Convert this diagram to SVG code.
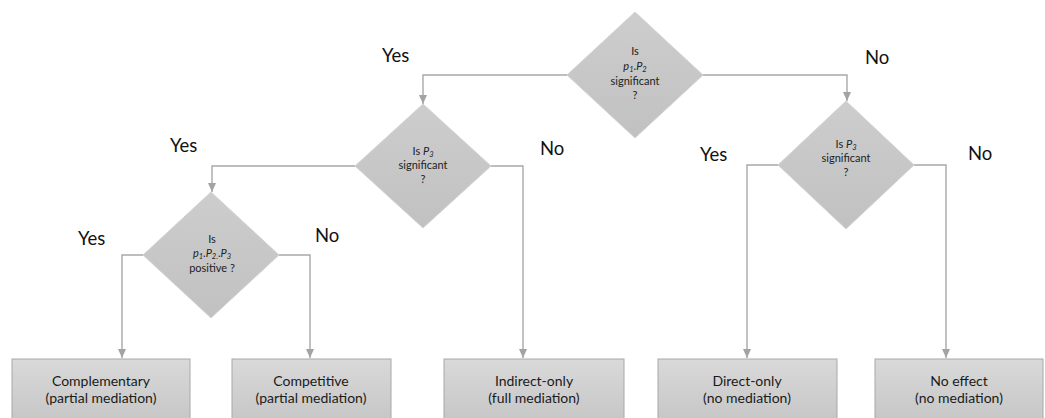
<svg xmlns="http://www.w3.org/2000/svg" width="1045" height="418" viewBox="0 0 1045 418">
  <defs>
    <linearGradient id="boxGrad" x1="0" y1="0" x2="0" y2="1">
      <stop offset="0" stop-color="#d9d9d9"/>
      <stop offset="1" stop-color="#c4c4c4"/>
    </linearGradient>
    <linearGradient id="diaGrad" x1="0" y1="0" x2="0" y2="1">
      <stop offset="0" stop-color="#cdcdcd"/>
      <stop offset="1" stop-color="#c1c1c1"/>
    </linearGradient>
    <marker id="arr" markerUnits="userSpaceOnUse" markerWidth="10" markerHeight="10" viewBox="0 0 10 10" refX="9" refY="5" orient="auto">
      <path d="M0,1 L9,5 L0,9 Z" fill="#a3a3a3"/>
    </marker>
    <style>
      .dia { fill: url(#diaGrad); stroke: #d4d4d4; stroke-width: 1; }
      .box { fill: url(#boxGrad); stroke: #a8a8a8; stroke-width: 1; }
      .con { fill: none; stroke: #a8a8a8; stroke-width: 1.4; marker-end: url(#arr); }
      .dt { font-family: Lato, "Liberation Sans", sans-serif; font-size: 11px; fill: #222; text-anchor: middle; }
      .bt { font-family: Lato, "Liberation Sans", sans-serif; font-size: 14px; fill: #1a1a1a; text-anchor: middle; }
      .lbl { font-family: Lato, "Liberation Sans", sans-serif; font-size: 18.5px; fill: #111; }
      .i { font-style: italic; }
      .sub { font-size: 7.5px; font-style: italic; }
    </style>
  </defs>

  <g id="connectors">
    <polyline class="con" points="567,75 423,75 423,104"/>
    <polyline class="con" points="703,75 847,75 847,101"/>
    <polyline class="con" points="355,166 212,166 212,192"/>
    <polyline class="con" points="491,166 523,166 523,358"/>
    <polyline class="con" points="143,255 122,255 122,358"/>
    <polyline class="con" points="279,255 310,255 310,358"/>
    <polyline class="con" points="778,165 747,165 747,358"/>
    <polyline class="con" points="914,165 946,165 946,358"/>
  </g>

  <g id="labels">
    <text class="lbl" x="382" y="62">Yes</text>
    <text class="lbl" x="865" y="64">No</text>
    <text class="lbl" x="170" y="152">Yes</text>
    <text class="lbl" x="540" y="155">No</text>
    <text class="lbl" x="78" y="245">Yes</text>
    <text class="lbl" x="315" y="242">No</text>
    <text class="lbl" x="700" y="161">Yes</text>
    <text class="lbl" x="968" y="160">No</text>
  </g>

  <g id="d1">
    <polygon class="dia" points="635,12 703,75 635,138 567,75"/>
    <text class="dt" x="635" y="55">Is</text>
    <text class="dt" x="635" y="70"><tspan class="i">p</tspan><tspan class="sub" dy="2">1</tspan><tspan dy="-2">.</tspan><tspan class="i">P</tspan><tspan class="sub" dy="2">2</tspan></text>
    <text class="dt" x="635" y="85">significant</text>
    <text class="dt" x="635" y="99">?</text>
  </g>

  <g id="d2">
    <polygon class="dia" points="423,104 491,166 423,228 355,166"/>
    <text class="dt" x="423" y="155">Is <tspan class="i">P</tspan><tspan class="sub" dy="2">3</tspan></text>
    <text class="dt" x="423" y="169">significant</text>
    <text class="dt" x="423" y="183">?</text>
  </g>

  <g id="d3">
    <polygon class="dia" points="211,192 279,255 211,318 143,255"/>
    <text class="dt" x="212" y="243">Is</text>
    <text class="dt" x="212" y="257"><tspan class="i">p</tspan><tspan class="sub" dy="2">1</tspan><tspan dy="-2">.</tspan><tspan class="i">P</tspan><tspan class="sub" dy="2">2.</tspan><tspan dy="-2">.</tspan><tspan class="i">P</tspan><tspan class="sub" dy="2">3</tspan></text>
    <text class="dt" x="212" y="272">positive ?</text>
  </g>

  <g id="d4">
    <polygon class="dia" points="846,101 914,165 846,229 778,165"/>
    <text class="dt" x="846" y="148">Is <tspan class="i">P</tspan><tspan class="sub" dy="2">3</tspan></text>
    <text class="dt" x="846" y="162">significant</text>
    <text class="dt" x="846" y="176">?</text>
  </g>

  <g id="b1">
    <rect class="box" x="12" y="359" width="178" height="70"/>
    <text class="bt" x="101" y="386">Complementary</text>
    <text class="bt" x="101" y="403">(partial mediation)</text>
  </g>
  <g id="b2">
    <rect class="box" x="232" y="359" width="159" height="70"/>
    <text class="bt" x="311" y="386">Competitive</text>
    <text class="bt" x="311" y="403">(partial mediation)</text>
  </g>
  <g id="b3">
    <rect class="box" x="444" y="359" width="180" height="70"/>
    <text class="bt" x="534" y="386">Indirect-only</text>
    <text class="bt" x="534" y="403">(full mediation)</text>
  </g>
  <g id="b4">
    <rect class="box" x="658" y="359" width="179" height="70"/>
    <text class="bt" x="747" y="386">Direct-only</text>
    <text class="bt" x="747" y="403">(no mediation)</text>
  </g>
  <g id="b5">
    <rect class="box" x="875" y="359" width="168" height="70"/>
    <text class="bt" x="959" y="386">No effect</text>
    <text class="bt" x="959" y="403">(no mediation)</text>
  </g>
</svg>
